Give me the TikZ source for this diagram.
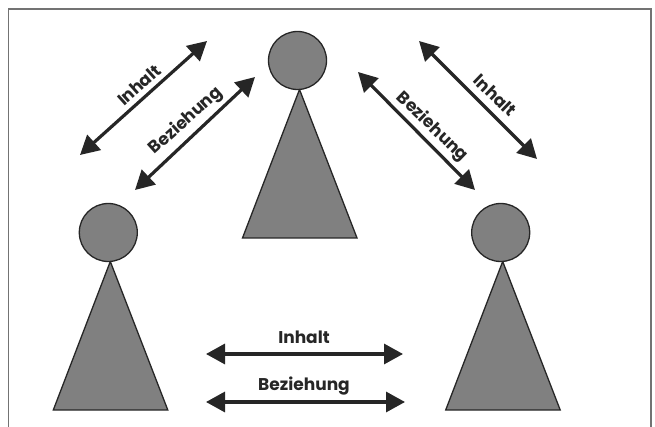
\documentclass[tikz,border=0pt]{standalone}
\usepackage{fontspec}
\setmainfont{Poppins}
\usetikzlibrary{arrows.meta}
\definecolor{figgrey}{HTML}{808080}
\definecolor{figblack}{HTML}{262626}
\tikzset{
  body/.style={draw=figblack,fill=figgrey,line width=1.3pt,line join=miter},
  head/.style={circle,draw=figblack,fill=figgrey,line width=1.3pt,minimum size=58pt,inner sep=0pt},
  talk/.style={draw=figblack,line width=3.2pt,{Triangle[length=19pt,width=20pt]}-{Triangle[length=19pt,width=20pt]}},
  word/.style={text=figblack,font=\bfseries\fontsize{17}{19}\selectfont,inner sep=0pt},
  frameline/.style={draw=black!55,line width=1.6pt}
}
\begin{document}
\begin{tikzpicture}[x=1pt,y=-1pt]
      \useasboundingbox (0,0) rectangle (655,427);
      \fill[white] (0,0) rectangle (655,427);
      \coordinate (frameA) at (8.5,427);
      \coordinate (frameB) at (8.5,9);
      \coordinate (frameC) at (651,9);
      \coordinate (frameD) at (651,427);
      \draw[frameline] (frameA) -- (frameB) -- (frameC) -- (frameD);

      %%%%  Persons
      \foreach \who/\x/\y in {top/299.5/0,left/110.3/172,right/502.7/172}
       {\coordinate (\who apex) at (\x,89.5+\y);
        \coordinate (\who baseL) at (\x-57,238+\y);
        \coordinate (\who baseR) at (\x+57.5,238+\y);
        \draw[body] (\who apex) -- (\who baseR) -- (\who baseL) -- cycle;
        \node[head] (\who head) at (\x-2,60.5+\y) {};
       };

      %%%%  Arrows, upper left
      \coordinate (innerA) at (80,155);
      \coordinate (innerB) at (207,41);
      \coordinate (relA) at (135,190);
      \coordinate (relB) at (255,77);
      \draw[talk] (innerA) -- (innerB);
      \draw[talk] (relA) -- (relB);
      \node[word,rotate=42] (innerLeft) at (139,85) {Inhalt};
      \node[word,rotate=42] (relLeft) at (186,121) {Beziehung};

      %%%%  Arrows, upper right
      \coordinate (innerC) at (419,41);
      \coordinate (innerD) at (537,159);
      \coordinate (relC) at (358,72);
      \coordinate (relD) at (475,190);
      \draw[talk] (innerC) -- (innerD);
      \draw[talk] (relC) -- (relD);
      \node[word,rotate=-44] (innerRight) at (495,95) {Inhalt};
      \node[word,rotate=-44] (relRight) at (432,127) {Beziehung};

      %%%%  Arrows, bottom
      \coordinate (innerE) at (206,354);
      \coordinate (innerF) at (403,354);
      \coordinate (relE) at (206,402);
      \coordinate (relF) at (405,402);
      \draw[talk] (innerE) -- (innerF);
      \draw[talk] (relE) -- (relF);
      \node[word] (innerBottom) at (304,337) {Inhalt};
      \node[word] (relBottom) at (304,386) {Beziehung};
    \end{tikzpicture}
\end{document}
